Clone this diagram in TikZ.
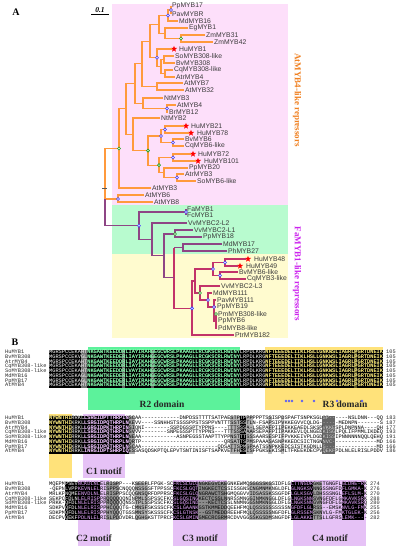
\documentclass[tikz,border=0pt]{standalone}
\usepackage{fontspec}
\setmainfont{Liberation Serif}
\setsansfont{Liberation Sans}
\setmonofont{Liberation Mono}
\usetikzlibrary{shapes.geometric}
\definecolor{orng}{HTML}{FF9A3C}
\definecolor{purp}{HTML}{8E4585}
\definecolor{crim}{HTML}{C2336A}
\definecolor{pinkbg}{HTML}{FDDFFA}
\definecolor{greenbg}{HTML}{B8FBCF}
\definecolor{yellowbg}{HTML}{FFFBCF}
\definecolor{bluec}{HTML}{3A3AFF}
\definecolor{greenc}{HTML}{1E9E1E}
\definecolor{leaf}{HTML}{3A3A3A}
\definecolor{orlab}{HTML}{F08020}
\definecolor{maglab}{HTML}{CC22EE}
\definecolor{rtwo}{HTML}{5CF29B}
\definecolor{rthree}{HTML}{FFE27A}
\definecolor{motif}{HTML}{E6C2F6}
\definecolor{seqgreen}{HTML}{4DFF88}
\definecolor{seqyellow}{HTML}{F2DA3A}
\definecolor{seqlav}{HTML}{E7A6FF}
\definecolor{dotblue}{HTML}{6060F0}
\definecolor{nmcol}{HTML}{2A2A2A}
\newcommand\clade[4]{\draw[#1] (#3) -- (#2 |- #3) -- (#2 |- #4) -- (#4);}
\def\cw{3.18}
\newcommand\cols[4]{({49+(#1-1)*\cw},#3) rectangle ({49+#2*\cw},#4)}
\newcommand\defseq[3]{\expandafter\def\csname s#1#2\endcsname{#3}}
\newcommand\seqrows[3]{\foreach \k in {1,...,8}{\node[seq,text=#3] (x#1\k) at (49,{#2+4.75*(\k-1)}) {\csname s#1\k\endcsname};}}
\newcommand\seqnames[2]{\foreach \nm [count=\k] in {HuMYB1,BvMYB308,AtrMYB4,CqMYB308-like,SoMYB308-like,MdMYB16,PpMYB17,AtMYB4}{\node[seq,text=nmcol] (nm#1\k) at (5,{#2+4.75*(\k-1)}) {\nm};}}
\newcommand\seqnums[4]{\foreach \v [count=\k] in {#4}{\node[seq,text=nmcol] (nu#1\k) at (#2,{#3+4.75*(\k-1)}) {\v};}}
% block A
\defseq{A}{1}{MGRSPCCEKAHTNKGAWTKEEDDRLIAYIRAHGEGCWRSLPKAAGLLRCGKSCRLRWINYLRPDLKRGNFTEEEDELIIKLHSLLGNKWSLIAGRLPGRTDNEIK}
\defseq{A}{2}{MGRSPCCEKVGLNKGAWTKEEDERLIAYIRAHGEGCWRSLPKAAGLLRCGKSCRLRWINYLRPDLKRGNFTEEEDELIIKLHSLLGNKWSLIAGRLPGRTDNEIK}
\defseq{A}{3}{MGRSPCCEKAHTNKGAWTKEEDDRLIAYIKAHGEGCWRSLPKAAGLLRCGKSCRLRWINYLRPDLKRGNFTEEEDELIIRLHSLLGNKWSLIAGRLPGRTDNEIK}
\defseq{A}{4}{MGRSPCCEKAHTNKGAWTKEEDDRLIAYIKAHGEGCWRSLPKAAGLLRCGKSCRLRWINYLRPDLKRGNFTEEEDELIIKLHSLLGNKWSLIAGRLPGRTDNEIK}
\defseq{A}{5}{MGRSPCCEKAHTNKGAWTKEEDDRLVAYIKAHGEGCWRSLPKAAGLLRCGKSCRLRWINYLRPDLKRGNFTEEEDELIIKLHSLLGNKWSLIAGRLPGRTDNEIK}
\defseq{A}{6}{MGRSPCCEKAGLNKGAWTKEEDERLIAYIRAHGEGCWRSLPKAAGLLRCGKSCRLRWINYLRPDLKRGNFTEEEDELIIKLHSLLGNKWSLIAGRLPGRTDNEIK}
\defseq{A}{7}{MGRSPCCEKAGLNKGAWTKEEDERLIAYIRAHGEGCWRSLPKAAGLLRCGKSCRLRWINYLRPDLKRGNFTEEEDELIIKLHSLLGNKWSLIAGRLPGRTDNEIK}
\defseq{A}{8}{MGRSPCCEKAHTNKGAWTKEEDERLVAYIKAHGEGCWRSLPKAAGLLRCGKSCRLRWINYLRPDLKRGNFTEEEDELIIKLHSLLGNKWSLIAGRLPGRTDNEIK}
% block B
\defseq{B}{1}{NYWNTHIRRKLLSRGIDPTTHRPINSCAA------------DNPDSSTTTTSATPAESTPTPPPPPPTSSISPDSPAFTSNPKSGLGP------NSLDNN---QQ}
\defseq{B}{2}{NYWNTHIKRKLLSRGIDPQTHRPLNKEVV----SSNHHSTSSSSPPSTSSPPVNTTTSSTSSTLN-FSAPSIPVKKEGVVCQLDG------MEDNPN-------S}
\defseq{B}{3}{NYWNTHIKRKLLGRGIDPKTHRPINSIQNI--------SSPDGSSPTYPPNS----TTTSSSA-LSEPAFPIIPEKKEAEDLSKSPVKKESPLDNPNNA----QH}
\defseq{B}{4}{NYWNTHIRRKLLSRGIDPQTHRPLNSVVV--------SNPEGSSPTTYPPNS---TTTSSSAAARSEPAFPIIPAKKEVLQLNGEDKISGLPQLIFPMMLIKDEQ}
\defseq{B}{5}{NYWNTHIRRKLLSRGIDPQTHRPLNNEAA-----------ASNPEGSSTAAPTTYPPNSTTTSSSAARSESPIFPVKKEIVPLDGDKISSIPNNNNNNQQLQEHQ}
\defseq{B}{6}{NYWNTHIKRKLLSRGIDPQTHRPLNQRTP--------------------------QRSATTSPMSPAAASASNPKKEDCSICTNGNNVC--------------MD}
\defseq{B}{7}{NYWNTHIKRKLLSRGIDPQTHRPLNSCAA------------------------QDSATTSPMSPAATSSNPKKEDCSISTKGDNLLG----------------MD}
\defseq{B}{8}{NYWNTHIRRKLINRGIDPTSHRPIQESSASQDSKPTQLEPVTSNTINISFTSAPKVETFHESISFPGKSEKISMLTFKEEKDECPVQEKFPDLNLELRISLPDDV}
% block C
\defseq{C}{1}{MQEPMPSEVNCKDLNLELRISPP---KSEEFLFPGK-SCFKCSLGLQNGKEGVCKEGNKEWMQSGGSSKGSIDFLGLTTNGDRGKETGNGFLGLDHE-RK}
\defseq{C}{2}{-QEPNLVPPKEVNLELRISPPSCNQQQNSSGSFTPPSSCFKCSLGQTINGKECTCSSISSGNSCNGMNMKNGLDFLGLNGKSVNNGSSNGFDFLGMKA-K}
\defseq{C}{3}{MRLKPNQMEENVDLNLELRISPPSCQQGNSQRFDPPRSCFKCSLGLQNGRAWCTSHGMQGGVVIDSASSKSSGFDFLGLKSGVLDHSSSNGLEFLSLM-K}
\defseq{C}{4}{SEKPQFDLNLELRISPPRQQQQQQNINPMLSSPSSCFKCSLGQSINGKECTCSSLNNRSSMNGGINMKNGGLDFLGLNGKSNNSVNGFDFLGMKAVKSRK}
\defseq{C}{5}{PRKK-QFDLNLELRISPPRQQQQQNSSTPLSSPSSCFKCSLGQSIND---KECTCSSLNNMNGGSNMKNGGLDFLGLNGKSNNGVNGFDFLGMKAVKSRQ}
\defseq{C}{6}{SDKPVQFDLNLELRISPPHCQQQTG-CMNSFSKSSSCFKCSLGAANKGSTKMMEDDQEEHFMQLQSSSSSSSSSSNGFDFLGLRSS--EMSKNVLG-FMK}
\defseq{C}{7}{SDKPMQFDLNLELRISPPHYQQQTGSSMNSYSKSSSCFKCSLGTNSK--GSTMEDDREEHFMQLQSSSSSNGFDFLGLRSSEMSKNVLG-FMKTGLEK-K}
\defseq{C}{8}{DECPVQEKFPDLNLELRISLPDDVDRLQGHGKSTTPRCFKCSLGMINGMECRCGRMRCDVVGGSSKGSDMSNGFDFLGLAKKETTSLLGFRSLEMK----}
\tikzset{
 ob/.style={draw=orng,line width=1.1pt},
 pb/.style={draw=purp,line width=1.1pt},
 cb/.style={draw=crim,line width=1.1pt},
 lbl/.style={anchor=west,inner xsep=1pt,inner ysep=0pt,font=\sffamily\fontsize{6.8}{7}\selectfont,text=leaf},
 bnode/.style={circle,draw=bluec,fill=white,line width=0.6pt,inner sep=0pt,minimum size=3pt},
 gnode/.style={bnode,draw=greenc},
 hstar/.style={star,star points=5,star point ratio=2.3,fill=red,draw=none,inner sep=0pt,minimum size=6.5pt},
 seq/.style={anchor=west,inner sep=0pt,font=\ttfamily\fontsize{5.3}{5.3}\selectfont,text height=3.2pt,text depth=0pt},
 mot/.style={inner sep=0pt,font=\bfseries\fontsize{9.5}{10}\selectfont,text=black!85},
 panel/.style={inner sep=0pt,font=\bfseries\fontsize{10}{10}\selectfont},
 side/.style={rotate=-90,inner sep=0pt,font=\bfseries\fontsize{9}{9}\selectfont}
}
\begin{document}
\begin{tikzpicture}[x=1pt,y=-1pt]
\useasboundingbox (0,0) rectangle (401,550);
\fill[white] (0,0) rectangle (401,550);
% ===== Panel A backgrounds =====
\fill[pinkbg] (112,4) rectangle (288,205);
\fill[greenbg] (112,205) rectangle (288,254);
\fill[yellowbg] (112,254) rectangle (288,338);
\node[panel] (pA) at (16,12) {A};
\node[inner sep=0pt,font=\bfseries\itshape\fontsize{7.5}{8}\selectfont] (sb) at (100,10) {0.1};
\coordinate (sbl) at (91,14.5); \coordinate (sbr) at (109,14.5);
\draw[line width=0.6pt] (sbl) -- (sbr);
\node[side,text=orlab] (labA) at (297,100) {AtMYB4-like repressors};
\node[side,text=maglab] (labB) at (297,274) {FaMYB1-like repressors};
% ===== leaves (upper clade) =====
\node[lbl] (PpMYB17) at (171,6) {PpMYB17};
\node[lbl] (PavMYBR) at (171,14) {PavMYBR};
\node[lbl] (MdMYB16) at (178,21) {MdMYB16};
\node[lbl] (EgMYB1) at (188,28) {EgMYB1};
\node[lbl] (ZmMYB31) at (205,35) {ZmMYB31};
\node[lbl] (ZmMYB42) at (213,42) {ZmMYB42};
\node[hstar] (sHuMYB1) at (174,49) {};
\node[lbl] (HuMYB1) at (178,49) {HuMYB1};
\node[lbl] (SoMYB308) at (174,56) {SoMYB308-like};
\node[lbl] (BvMYB308) at (175,63) {BvMYB308};
\node[lbl] (CqMYB308) at (173,70) {CqMYB308-like};
\node[lbl] (AtrMYB4) at (175,77) {AtrMYB4};
\node[lbl] (AtMYB7) at (183,83) {AtMYB7};
\node[lbl] (AtMYB32) at (184,90) {AtMYB32};
\node[lbl] (NtMYB3) at (163,98) {NtMYB3};
\node[lbl] (AtMYB4) at (176,105) {AtMYB4};
\node[lbl] (BrMYB12) at (168,112) {BrMYB12};
\node[lbl] (NtMYB2) at (160,118) {NtMYB2};
\node[hstar] (sHuMYB21) at (186,126) {};
\node[lbl] (HuMYB21) at (190,126) {HuMYB21};
\node[hstar] (sHuMYB78) at (191,133) {};
\node[lbl] (HuMYB78) at (196,133) {HuMYB78};
\node[lbl] (BvMYB6) at (184,139) {BvMYB6};
\node[lbl] (CqMYB6) at (184,146) {CqMYB6-like};
\node[hstar] (sHuMYB72) at (193,154) {};
\node[lbl] (HuMYB72) at (197,154) {HuMYB72};
\node[hstar] (sHuMYB101) at (198,161) {};
\node[lbl] (HuMYB101) at (203,161) {HuMYB101};
\node[lbl] (PpMYB20) at (188,168) {PpMYB20};
\node[lbl] (AtrMYB3) at (184,174) {AtrMYB3};
\node[lbl] (SoMYB6) at (196,181) {SoMYB6-like};
\node[lbl] (AtMYB3) at (151,188) {AtMYB3};
\node[lbl] (AtMYB6) at (144,195) {AtMYB6};
\node[lbl] (AtMYB8) at (153,202) {AtMYB8};
% ===== leaves (lower clade) =====
\node[lbl] (FaMYB1) at (186,209) {FaMYB1};
\node[lbl] (FcMYB1) at (186,215) {FcMYB1};
\node[lbl] (VvL2) at (187,223) {VvMYBC2-L2};
\node[lbl] (VvL1) at (193,230) {VvMYBC2-L1};
\node[lbl] (PpMYB18) at (202,237) {PpMYB18};
\node[lbl] (MdMYB17) at (222,244) {MdMYB17};
\node[lbl] (PhMYB27) at (227,251) {PhMYB27};
\node[hstar] (sHuMYB48) at (248,259) {};
\node[lbl] (HuMYB48) at (253,259) {HuMYB48};
\node[hstar] (sHuMYB49) at (240,266) {};
\node[lbl] (HuMYB49) at (245,266) {HuMYB49};
\node[lbl] (BvMYB6l) at (238,272) {BvMYB6-like};
\node[lbl] (CqMYB3l) at (246,279) {CqMYB3-like};
\node[lbl] (VvL3) at (220,286) {VvMYBC2-L3};
\node[lbl] (MdMYB111) at (212,293) {MdMYB111};
\node[lbl] (PavMYB111) at (216,300) {PavMYB111};
\node[lbl] (PpMYB19) at (216,307) {PpMYB19};
\node[lbl] (PmMYB308) at (217,314) {PmMYB308-like};
\node[lbl] (PpMYB6) at (217,321) {PpMYB6};
\node[lbl] (PdMYB8) at (217,328) {PdMYB8-like};
\node[lbl] (PtrMYB182) at (234,335) {PtrMYB182};
% ===== internal nodes =====
\coordinate (a1) at (171,10); \coordinate (a2) at (168,15.5);
\coordinate (zm) at (181,38.5); \coordinate (eg) at (165,33.25);
\coordinate (b1) at (159,24.4); \coordinate (c3) at (164,59.5);
\coordinate (c4) at (165,73.5); \coordinate (c2) at (161,66.5);
\coordinate (c1) at (157,57.75); \coordinate (b2) at (150,41.1);
\coordinate (d1) at (157,86.5); \coordinate (b3) at (142,63.8);
\coordinate (e1) at (167,108.5); \coordinate (e2) at (143,103.25);
\coordinate (b4) at (135,83.5); \coordinate (i1) at (165,129.5);
\coordinate (i2) at (173,142.5); \coordinate (h1) at (161,136);
\coordinate (j1) at (173,157.5); \coordinate (k1) at (177,177.5);
\coordinate (j2) at (164,172.75); \coordinate (h2) at (159,165.1);
\coordinate (g) at (148,150.6); \coordinate (f1) at (133,134.3);
\coordinate (b5) at (126,108.9); \coordinate (N1) at (119,148.5);
\coordinate (m) at (118,199); \coordinate (root) at (105,188);
\coordinate (P) at (139,225.7); \coordinate (q1) at (186,212);
\coordinate (q2) at (152,239.5); \coordinate (q3) at (164,255.9);
\coordinate (q4) at (175,234); \coordinate (q5) at (174,277.8);
\coordinate (r1) at (183,247.5); \coordinate (r2) at (192,308.4);
\coordinate (t1) at (195,281); \coordinate (s1) at (213,269);
\coordinate (u1) at (225,262.5); \coordinate (u2) at (220,275.5);
\coordinate (s2) at (200,293); \coordinate (v1) at (208,300);
\coordinate (v2) at (214,307); \coordinate (v3) at (216,321);
\coordinate (gm) at (216,314);
% ===== branches =====
\clade{ob}{a1}{PpMYB17.west}{PavMYBR.west}
\clade{ob}{a2}{a1}{MdMYB16.west}
\clade{ob}{zm}{ZmMYB31.west}{ZmMYB42.west}
\clade{ob}{eg}{EgMYB1.west}{zm}
\clade{ob}{b1}{a2}{eg}
\clade{ob}{c3}{SoMYB308.west}{BvMYB308.west}
\clade{ob}{c4}{CqMYB308.west}{AtrMYB4.west}
\clade{ob}{c2}{c3}{c4}
\clade{ob}{c1}{sHuMYB1.west}{c2}
\clade{ob}{b2}{b1}{c1}
\clade{ob}{d1}{AtMYB7.west}{AtMYB32.west}
\clade{ob}{b3}{b2}{d1}
\clade{ob}{e1}{AtMYB4.west}{BrMYB12.west}
\clade{ob}{e2}{NtMYB3.west}{e1}
\clade{ob}{b4}{b3}{e2}
\clade{ob}{i1}{sHuMYB21.west}{sHuMYB78.west}
\clade{ob}{i2}{BvMYB6.west}{CqMYB6.west}
\clade{ob}{h1}{i1}{i2}
\clade{ob}{j1}{sHuMYB72.west}{sHuMYB101.west}
\clade{ob}{k1}{AtrMYB3.west}{SoMYB6.west}
\clade{ob}{j2}{PpMYB20.west}{k1}
\clade{ob}{h2}{j1}{j2}
\clade{ob}{g}{h1}{h2}
\clade{ob}{f1}{NtMYB2.west}{g}
\clade{ob}{b5}{b4}{f1}
\clade{ob}{N1}{b5}{AtMYB3.west}
\clade{ob}{m}{AtMYB6.west}{AtMYB8.west}
\clade{ob}{root}{N1}{m}
\draw[pb] (root |- m) -- (root |- P) -- (P);
\clade{pb}{q1}{FaMYB1.west}{FcMYB1.west}
\clade{pb}{q4}{VvL1.west}{PpMYB18.west}
\clade{pb}{r1}{MdMYB17.west}{PhMYB27.west}
\clade{cb}{u1}{sHuMYB48.west}{sHuMYB49.west}
\clade{cb}{u2}{BvMYB6l.west}{CqMYB3l.west}
\clade{cb}{s1}{u1}{u2}
\clade{cb}{v3}{PmMYB308.west}{PdMYB8.west}
\draw[cb] (v3) -- (PpMYB6.west);
\clade{cb}{v2}{PavMYB111.west}{v3}
\draw[cb] (v2) -- (PpMYB19.west);
\clade{cb}{v1}{MdMYB111.west}{v2}
\clade{cb}{s2}{VvL3.west}{v1}
\clade{cb}{t1}{s1}{s2}
\clade{cb}{r2}{t1}{PtrMYB182.west}
\draw[pb] (r1) -- (q5 |- r1);
\draw[cb] (q5 |- r1) -- (q5 |- r2) -- (r2);
\clade{pb}{q3}{q4}{q5}
\clade{pb}{q2}{VvL2.west}{q3}
\clade{pb}{P}{q1}{q2}
\coordinate (tk1) at (102,188); \coordinate (tk2) at (107,188);
\draw[black!65,line width=1pt] (tk1) -- (tk2);
% ===== markers =====
\foreach \c in {a1,a2,c1,e1,i1,i2,h1,j1,k1,m,P,q1,u1,s1,u2,r2,v1,v2} \node[bnode] (mk\c) at (\c) {};
\foreach \c in {zm,h2,g,N1,q4,s2,gm} \node[gnode] (mk\c) at (\c) {};
% ===== Panel B =====
\node[panel] (pB) at (15,342) {B};
% block 1
\fill[rtwo] (88,347) rectangle (240,410);
\fill[rthree] (265,347) rectangle (383,410);
\fill[black] \cols{1}{105}{349.6}{387.7};
\fill[black!55] \cols{11}{12}{349.6}{387.7};
\fill[black!60] \cols{24}{24}{349.6}{387.7};
\fill[black!60] \cols{33}{33}{349.6}{387.7};
\fill[black!45!olive] \cols{97}{97}{349.6}{387.7};
\seqnames{A}{352}
\seqrows{A}{352}{white}
\begin{scope}\clip \cols{13}{60}{349}{388}; \seqrows{A}{352}{seqgreen}\end{scope}
\begin{scope}\clip \cols{69}{105}{349}{388}; \seqrows{A}{352}{seqyellow}\end{scope}
\seqnums{A}{386}{352}{105,105,105,105,105,105,105,105}
\foreach \xx [count=\k] in {286,289,292,302,314,337,362} \fill[dotblue] (\xx,401) circle (1.3pt);
\node[mot] (lR2) at (162,404) {R2 domain};
\node[mot] (lR3) at (345,404) {R3 domain};
% block 2
\fill[rthree] (49,414) rectangle (72,478);
\fill[motif] (83,414) rectangle (125,478);
\fill[black] \cols{1}{25}{415.6}{453.8};
\fill[black!35] \cols{26}{27}{415.6}{453.8};
\fill[black!30] \cols{58}{60}{415.6}{453.8};
\fill[black] \cols{61}{62}{415.6}{453.8};
\fill[black!30] \cols{63}{64}{415.6}{453.8};
\fill[black!25] \cols{70}{70}{415.6}{453.8};
\fill[black!25] \cols{74}{74}{415.6}{453.8};
\fill[black!60] \cols{87}{90}{415.6}{453.8};
\seqnames{B}{418}
\seqrows{B}{418}{black}
\begin{scope}\clip \cols{1}{25}{415}{454} \cols{61}{62}{415}{454} \cols{87}{90}{415}{454}; \seqrows{B}{418}{white}\end{scope}
\begin{scope}\clip \cols{1}{7}{415}{454}; \seqrows{B}{418}{seqyellow}\end{scope}
\begin{scope}\clip \cols{12}{25}{415}{454}; \seqrows{B}{418}{seqlav}\end{scope}
\seqnums{B}{386}{418}{183,187,177,193,191,166,166,186}
\node[mot] (lC1) at (104,471) {C1 motif};
% block 3
\fill[motif] (78,480) rectangle (110,546);
\fill[motif] (173,480) rectangle (227,546);
\fill[motif] (293,480) rectangle (366,546);
\fill[black] \cols{6}{16}{481.9}{520};
\fill[black!40] \cols{19}{22}{481.9}{520};
\fill[black!30] \cols{28}{31}{481.9}{520};
\fill[black] \cols{40}{47}{481.9}{520};
\fill[black!45] \cols{48}{56}{481.9}{520};
\fill[black!30] \cols{64}{70}{481.9}{520};
\fill[black] \cols{77}{83}{481.9}{520};
\fill[black!40] \cols{84}{86}{481.9}{520};
\fill[black] \cols{93}{99}{481.9}{520};
\seqnames{C}{484.3}
\seqrows{C}{484.3}{black}
\begin{scope}\clip \cols{6}{9}{481}{521}; \seqrows{C}{484.3}{white}\end{scope}
\begin{scope}\clip \cols{10}{16}{481}{521} \cols{40}{47}{481}{521} \cols{77}{83}{481}{521} \cols{93}{99}{481}{521}; \seqrows{C}{484.3}{seqlav}\end{scope}
\seqnums{C}{370}{484.3}{274,276,270,288,280,255,256,282}
\node[mot] (lC2) at (94,538) {C2 motif};
\node[mot] (lC3) at (200,538) {C3 motif};
\node[mot] (lC4) at (330,538) {C4 motif};
\end{tikzpicture}
\end{document}
